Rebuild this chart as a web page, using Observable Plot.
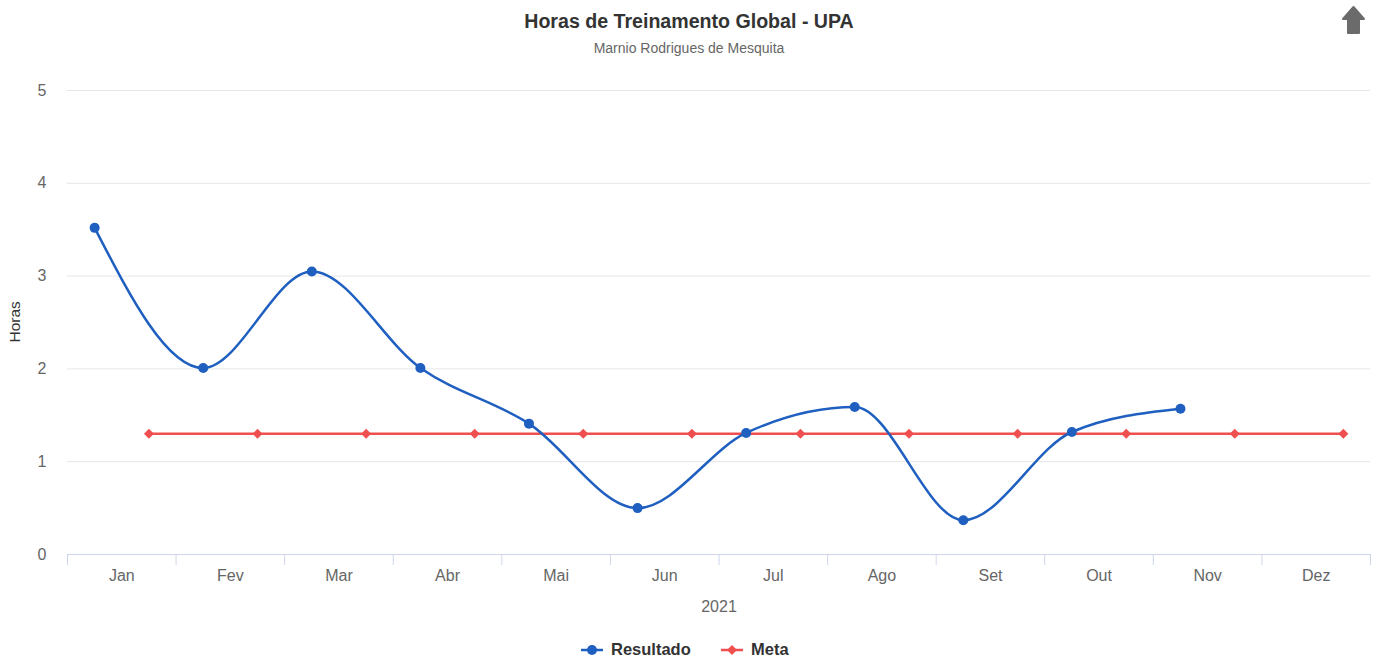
<!DOCTYPE html>
<html>
<head>
<meta charset="utf-8">
<script src="https://cdn.jsdelivr.net/npm/d3@7"></script>
<script src="https://cdn.jsdelivr.net/npm/@observablehq/plot@0.6"></script>
<style>
  html, body { margin: 0; padding: 0; background: #fff; }
  #wrap { position: relative; width: 1378px; height: 659px; overflow: hidden; font-family: "Liberation Sans", Arial, sans-serif; }
  #title { position: absolute; left: 0; width: 1378px; top: 11px; text-align: center; font-size: 19.6px; line-height: 20px; font-weight: bold; color: #333; }
  #subtitle { position: absolute; left: 0; width: 1378px; top: 41px; text-align: center; font-size: 14px; line-height: 14px; color: #666; }
  #chart { position: absolute; left: 0; top: 70px; }
  #legend { position: absolute; left: 0; top: 630px; }
  #icon { position: absolute; left: 0; top: 0; }
</style>
</head>
<body>
<div id="wrap">
  <div id="title">Horas de Treinamento Global - UPA</div>
  <div id="subtitle">Marnio Rodrigues de Mesquita</div>
  <svg id="icon" width="1378" height="45">
    <path d="M1353.5,7 L1364,19 L1359,19 L1359,33 L1348,33 L1348,19 L1343,19 Z" fill="#6b6b6b" stroke="#6b6b6b" stroke-width="2" stroke-linejoin="round"/>
  </svg>
  <div id="chart"></div>
  <svg id="legend" width="1378" height="29"></svg>
</div>
<script>
const months = ["Jan", "Fev", "Mar", "Abr", "Mai", "Jun", "Jul", "Ago", "Set", "Out", "Nov", "Dez"];
const resultado = [3.52, 2.01, 3.05, 2.01, 1.41, 0.50, 1.31, 1.59, 0.37, 1.32, 1.57];
const meta = [1.3, 1.3, 1.3, 1.3, 1.3, 1.3, 1.3, 1.3, 1.3, 1.3, 1.3, 1.3];
const yTicks = [0, 1, 2, 3, 4, 5];
const xTitle = "2021";
const yTitle = "Horas";
const seriesNames = ["Resultado", "Meta"];

const blue = "#1f5fc0";
const red = "#f04f4f";

const resData = resultado.map((v, i) => ({month: months[i], i, v}));
const metaData = meta.map((v, i) => ({month: months[i], i, v}));

const chart = Plot.plot({
  width: 1378,
  height: 550,
  marginLeft: 67,
  marginRight: 8,
  marginTop: 20,
  marginBottom: 66,
  style: {fontFamily: '"Liberation Sans", Arial, sans-serif', background: "#fff", overflow: "visible"},
  x: {domain: [0, 12]},
  y: {domain: [0, 5], axis: null},
  marks: [
    Plot.ruleY(yTicks.filter(d => d > 0), {stroke: "#e6e6e6", strokeWidth: 1}),
    Plot.ruleY([0], {stroke: "#ccd6eb", strokeWidth: 1}),
    Plot.axisX({ticks: d3.range(13), tickSize: 11, tickFormat: () => "", stroke: "#ccd6eb", strokeOpacity: 1}),
    Plot.text(months, {x: (d, i) => i + 0.5, frameAnchor: "bottom", dy: 21, lineAnchor: "middle", fill: "#666", fontSize: 16}),
    Plot.text([xTitle], {frameAnchor: "bottom", dy: 52, lineAnchor: "middle", fill: "#666", fontSize: 16}),
    Plot.text(yTicks, {x: 0, y: d => d, dx: -21, textAnchor: "end", lineAnchor: "middle", fill: "#666", fontSize: 16}),
    Plot.text([yTitle], {frameAnchor: "left", dx: -52, dy: 20, rotate: -90, lineAnchor: "middle", fill: "#333", fontSize: 15.5}),
    Plot.line(metaData, {x: d => d.i + 0.75, y: "v", stroke: red, strokeWidth: 2.5}),
    Plot.dot(metaData, {x: d => d.i + 0.75, y: "v", symbol: "diamond2", r: 4.5, fill: red}),
    Plot.line(resData, {x: d => d.i + 0.25, y: "v", curve: "monotone-x", stroke: blue, strokeWidth: 2.5}),
    Plot.dot(resData, {x: d => d.i + 0.25, y: "v", r: 5, fill: blue})
  ]
});
document.getElementById("chart").appendChild(chart);

// legend
const lg = d3.select("#legend");
const items = [
  {name: seriesNames[0], color: blue, x: 581, shape: "circle"},
  {name: seriesNames[1], color: red, x: 721, shape: "diamond"}
];
items.forEach(it => {
  lg.append("line").attr("x1", it.x).attr("x2", it.x + 22).attr("y1", 20).attr("y2", 20)
    .attr("stroke", it.color).attr("stroke-width", 2.5);
  if (it.shape === "circle") {
    lg.append("circle").attr("cx", it.x + 11).attr("cy", 20).attr("r", 5).attr("fill", it.color);
  } else {
    lg.append("path").attr("transform", `translate(${it.x + 11},20)`)
      .attr("d", d3.symbol(d3.symbolDiamond2, 64)()).attr("fill", it.color);
  }
  lg.append("text").attr("x", it.x + 30).attr("y", 25)
    .attr("font-family", '"Liberation Sans", Arial, sans-serif')
    .attr("font-size", 16.5).attr("font-weight", "bold").attr("fill", "#333")
    .text(it.name);
});
</script>
</body>
</html>
